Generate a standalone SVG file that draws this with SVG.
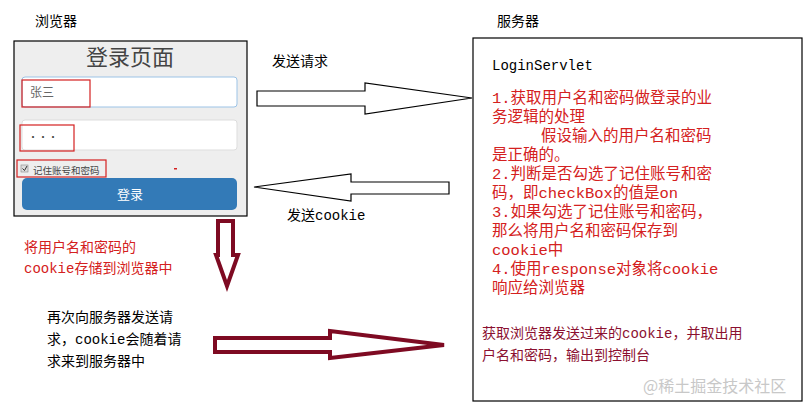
<svg xmlns="http://www.w3.org/2000/svg" width="804" height="409" viewBox="0 0 804 409">
<style>
.cjk{font-family:"Liberation Mono","Noto Sans CJK SC",monospace;font-size:14px}
.srv{font-family:"Liberation Mono","Noto Sans CJK SC",monospace;font-size:15.5px;fill:#d42020}
.red{fill:#d42020}
.dred{fill:#8b1030}
.out{fill:#fff;stroke:#000;stroke-width:1.2}
.thick{fill:#fff;stroke:#7e0a22;stroke-width:4;stroke-linejoin:miter}
.ui{font-family:"Noto Sans CJK SC",sans-serif}
</style>
<rect width="804" height="409" fill="#fff"/>
<text class="cjk" x="35" y="26">浏览器</text>
<text class="cjk" x="497" y="26">服务器</text>
<g id="browser">
<rect x="14" y="41" width="233" height="175" fill="#eeeeee" stroke="#000" stroke-width="1.2"/>
<text class="ui" x="130" y="65" font-size="22" fill="#444" text-anchor="middle">登录页面</text>
<rect x="22" y="77" width="215" height="30" rx="3" fill="#fff" stroke="#9cc3e6"/>
<rect x="22" y="80" width="68" height="27" fill="none" stroke="#d42020" stroke-width="1.2"/>
<text class="ui" x="30" y="97" font-size="12" fill="#666">张三</text>
<rect x="22" y="120" width="215" height="30" rx="3" fill="#fff" stroke="#ddd"/>
<rect x="20" y="125" width="54" height="26" fill="none" stroke="#d42020" stroke-width="1.2"/>
<text class="ui" x="28" y="141" font-size="10" fill="#444">•••</text>
<rect x="17" y="160" width="89" height="17" fill="none" stroke="#d42020" stroke-width="1.2"/>
<rect x="21" y="165" width="7" height="7" fill="#ddd" stroke="#888" stroke-width="0.6"/>
<path d="M22.5 168.5 L24.5 170.5 L27 166" fill="none" stroke="#333" stroke-width="1"/>
<text class="ui" x="33" y="174" font-size="9.5" fill="#444">记住账号和密码</text>
<rect x="174" y="168" width="3" height="1.5" fill="#d42020"/>
<rect x="22" y="178" width="215" height="32" rx="5" fill="#337ab7"/>
<text class="ui" x="130" y="199" font-size="13" fill="#fff" text-anchor="middle">登录</text>
</g>
<g id="server">
<rect x="473" y="38" width="329" height="363" fill="#fff" stroke="#000" stroke-width="1.2"/>
<text class="cjk" x="492" y="70" font-size="15" fill="#000">LoginServlet</text>
<text class="srv">
<tspan x="492" y="103">1.获取用户名和密码做登录的业</tspan>
<tspan x="492" y="122">务逻辑的处理</tspan>
<tspan x="541" y="141">假设输入的用户名和密码</tspan>
<tspan x="492" y="160">是正确的。</tspan>
<tspan x="492" y="179">2.判断是否勾选了记住账号和密</tspan>
<tspan x="492" y="198">码，即checkBox的值是on</tspan>
<tspan x="492" y="217">3.如果勾选了记住账号和密码，</tspan>
<tspan x="492" y="236">那么将用户名和密码保存到</tspan>
<tspan x="492" y="255">cookie中</tspan>
<tspan x="492" y="274">4.使用response对象将cookie</tspan>
<tspan x="492" y="293">响应给浏览器</tspan>
</text>
<text class="cjk dred" font-size="15"><tspan x="482" y="338">获取浏览器发送过来的cookie，并取出用</tspan><tspan x="482" y="360">户名和密码，输出到控制台</tspan></text>
<text class="ui" x="643" y="392" font-size="16" fill="#c8c8c8">@稀土掘金技术社区</text>
</g>
<g id="connectors">
<path class="out" d="M257 91 L365 91 L365 83 L472 98 L365 114 L365 106 L257 106 Z"/>
<text class="cjk" x="272" y="66">发送请求</text>
<path class="out" d="M449 182 L351 182 L351 174 L254 187 L351 201 L351 194 L449 194 Z"/>
<text class="cjk" x="287" y="220">发送cookie</text>
<path class="thick" d="M218 221 L233 221 L233 255 L238 255 L227 286 L216 255 L218 255 Z"/>
<path class="thick" d="M215 338 L330 338 L330 331 L444 345 L330 358 L330 352 L215 352 Z"/>
</g>
<text class="cjk red" x="24" y="252">将用户名和密码的</text>
<text class="cjk red" x="24" y="273">cookie存储到浏览器中</text>
<text class="cjk" x="47" y="322">再次向服务器发送请</text>
<text class="cjk" x="47" y="344">求，cookie会随着请</text>
<text class="cjk" x="47" y="366">求来到服务器中</text>
</svg>
